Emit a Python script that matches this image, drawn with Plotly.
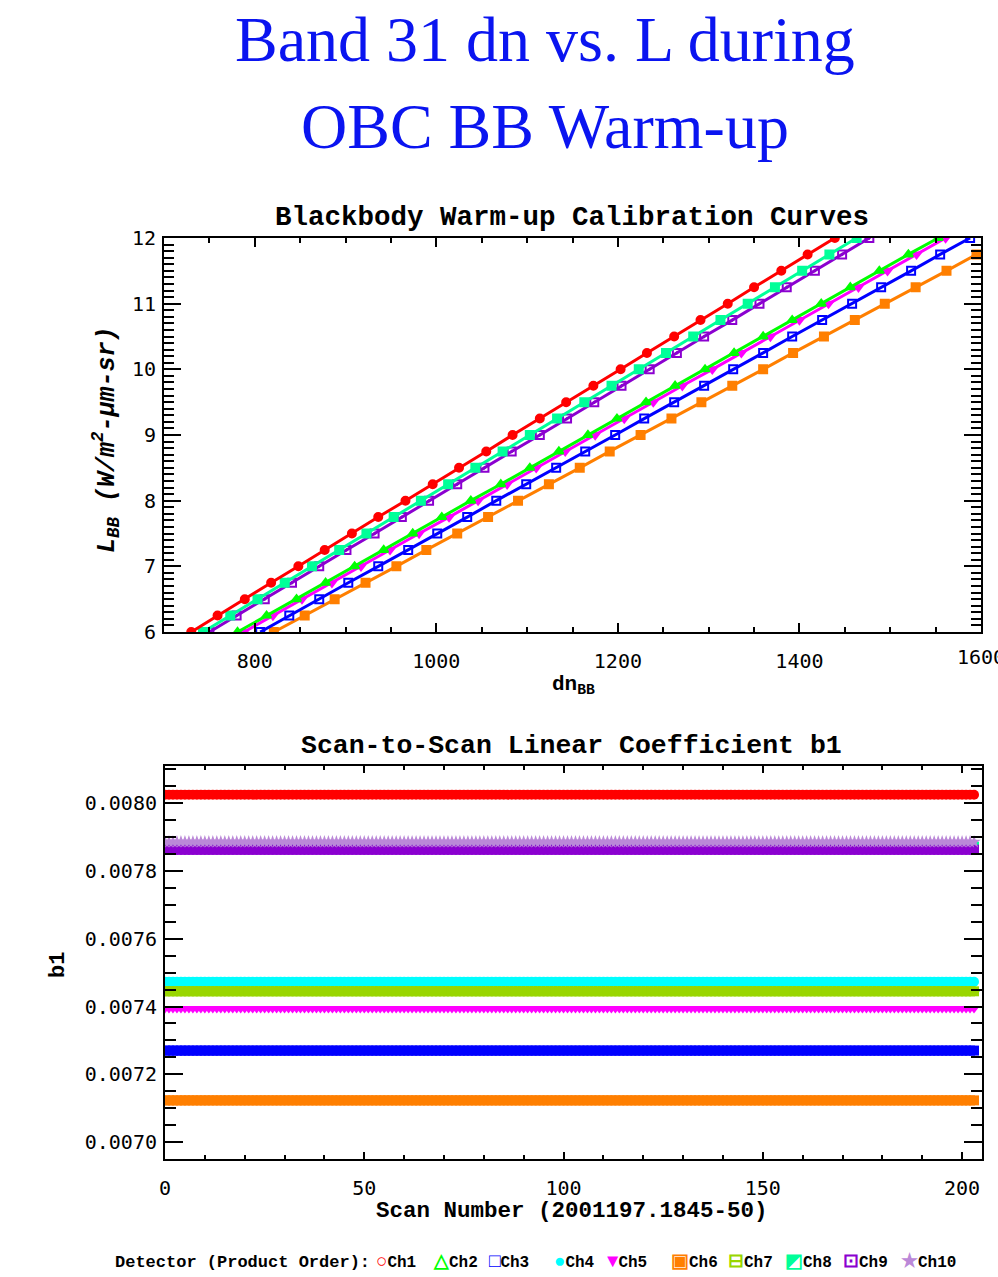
import plotly.graph_objects as go

# ---------------- data ----------------
CHANNELS = ["Ch1", "Ch2", "Ch3", "Ch4", "Ch5", "Ch6", "Ch7", "Ch8", "Ch9", "Ch10"]
COLORS = ["#FF0000", "#00FF00", "#0000FF", "#00FFFF", "#FF00FF",
          "#FF7F00", "#99D600", "#00FF99", "#8B00D0", "#BB88D8"]
SYMBOLS_TOP = ["circle", "triangle-up", "square-open", "circle", "triangle-down",
               "square", "square", "square", "square-open-dot", "star"]
SYMBOLS_BOT = ["circle", "triangle-up", "square", "circle", "triangle-down",
               "square", "square", "square", "square", "star"]
LEGEND_GLYPHS = ["○", "△", "□", "●", "▼", "▣", "⊟", "◩", "⊡", "★"]

# Top panel: radiance levels (L_BB) and dn read for each visible detector
L_LEVELS = [6.00, 6.25, 6.50, 6.75, 7.00, 7.25, 7.50, 7.75, 8.00, 8.25, 8.50, 8.75,
            9.00, 9.25, 9.50, 9.75, 10.00, 10.25, 10.50, 10.75, 11.00, 11.25,
            11.50, 11.75, 12.00]
DN_CH1 = [730, 759, 789, 818, 848, 877, 907, 936, 966, 996, 1025, 1055, 1084,
          1114, 1143, 1173, 1203, 1232, 1262, 1291, 1321, 1350, 1380, 1409, 1439]
DN_CH2 = [781, 813, 846, 878, 910, 942, 974, 1006, 1038, 1071, 1103, 1135, 1167,
          1199, 1231, 1263, 1296, 1328, 1360, 1392, 1424, 1456, 1488, 1520, 1553]
DN_CH3 = [806, 838, 871, 903, 936, 969, 1001, 1034, 1066, 1099, 1132, 1164, 1197,
          1229, 1262, 1295, 1327, 1360, 1392, 1425, 1458, 1490, 1523, 1555, 1588]
DN_CH5 = [788, 820, 852, 885, 917, 949, 981, 1014, 1046, 1078, 1110, 1142, 1175,
          1207, 1239, 1271, 1304, 1336, 1368, 1400, 1432, 1465, 1497, 1529, 1561]
DN_CH6 = [821, 855, 888, 922, 956, 989, 1023, 1057, 1090, 1124, 1158, 1191, 1225,
          1259, 1292, 1326, 1360, 1393, 1427, 1461, 1494, 1528, 1562, 1595, 1629]
DN_CH8 = [743, 773, 803, 833, 863, 893, 923, 953, 983, 1013, 1043, 1073, 1103,
          1133, 1163, 1193, 1223, 1253, 1283, 1313, 1343, 1373, 1403, 1433, 1463]
DN_CH9 = [750, 780, 811, 841, 871, 901, 932, 962, 992, 1023, 1053, 1083, 1114,
          1144, 1174, 1204, 1235, 1265, 1295, 1326, 1356, 1386, 1417, 1447, 1477]
TOP_SERIES = [("Ch9", DN_CH9), ("Ch8", DN_CH8), ("Ch1", DN_CH1), ("Ch6", DN_CH6),
              ("Ch3", DN_CH3), ("Ch5", DN_CH5), ("Ch2", DN_CH2)]
TOP_X_TICKS = [800, 1000, 1200, 1400, 1600]

# Bottom panel: scan numbers and the (flat) b1 level read for each detector
SCANS = list(range(0, 204))
B1_LEVEL = [0.008025, 0.007450, 0.007270, 0.007473, 0.007394,
            0.007123, 0.007445, 0.007872, 0.007863, 0.007886]

# ---------------- layout helpers (page pixels -> paper) ----------------
W, H = 998, 1277


def px(x):
    return x / W


def py(y):
    return 1 - y / H


TICKFONT = dict(family="DejaVu Sans Mono", size=20, color="black")
MONO_B = "Liberation Mono"

fig = go.Figure()

idx = {c: i for i, c in enumerate(CHANNELS)}
for name, dn in TOP_SERIES:
    i = idx[name]
    fig.add_trace(go.Scatter(
        x=dn, y=L_LEVELS, mode="lines+markers", name=name, showlegend=False,
        line=dict(color=COLORS[i], width=3),
        marker=dict(symbol=SYMBOLS_TOP[i], size=8, color=COLORS[i],
                    line=dict(color=COLORS[i], width=2)),
        xaxis="x", yaxis="y"))

for i, name in enumerate(CHANNELS):
    fig.add_trace(go.Scatter(
        x=SCANS, y=[B1_LEVEL[i]] * len(SCANS), mode="markers", name=name,
        showlegend=False,
        marker=dict(symbol=SYMBOLS_BOT[i], size=10, color=COLORS[i],
                    line=dict(width=0)),
        xaxis="x2", yaxis="y2"))

axis_common = dict(showgrid=False, zeroline=False, showline=True, linecolor="black",
                   linewidth=2, mirror="ticks", ticks="inside", tickcolor="black",
                   tickfont=TICKFONT)

fig.update_layout(
    width=W, height=H, margin=dict(l=0, r=0, t=0, b=0, autoexpand=False),
    paper_bgcolor="white", plot_bgcolor="white",
    xaxis=dict(axis_common, domain=[px(164), px(981)], range=[700, 1600],
               tickvals=TOP_X_TICKS[:-1], ticklen=9, tickwidth=2,
               minor=dict(dtick=50, tick0=700, ticklen=5, tickwidth=1.5,
                          ticks="inside", tickcolor="black"),
               ticklabelstandoff=10, anchor="y"),
    yaxis=dict(axis_common, domain=[py(632), py(238)], range=[6, 12], dtick=1,
               ticklen=17, tickwidth=2,
               minor=dict(dtick=0.1, tick0=6, ticklen=10, tickwidth=1.5,
                          ticks="inside", tickcolor="black"),
               ticklabelstandoff=2, anchor="x"),
    xaxis2=dict(axis_common, domain=[px(165), px(982)], range=[0, 205],
                tickvals=[0, 50, 100, 150, 200], ticklen=7, tickwidth=2,
                minor=dict(dtick=10, tick0=0, ticklen=4, tickwidth=1.5,
                           ticks="inside", tickcolor="black"),
                ticklabelstandoff=10, anchor="y2"),
    yaxis2=dict(axis_common, domain=[py(1159), py(766)], range=[0.00695, 0.00811],
                tickvals=[0.0070, 0.0072, 0.0074, 0.0076, 0.0078, 0.0080],
                tickformat=".4f", ticklen=18, tickwidth=2,
                minor=dict(dtick=0.00005, tick0=0.007, ticklen=11, tickwidth=1.5,
                           ticks="inside", tickcolor="black"),
                ticklabelstandoff=2, anchor="x2"),
)

ann = []
TITLE_FONT = dict(family="Liberation Serif", size=64, color="#0A14F0")
ann.append(dict(text="Band 31 dn vs. L during", x=px(545), y=py(39),
                font=TITLE_FONT))
ann.append(dict(text="OBC BB Warm-up", x=px(545), y=py(127), font=TITLE_FONT))
ann.append(dict(text="<b>Blackbody Warm-up Calibration Curves</b>", x=px(572),
                y=py(218), font=dict(family=MONO_B, size=27.5, color="black")))
ann.append(dict(text="<b>Scan-to-Scan Linear Coefficient b1</b>", x=px(571),
                y=py(746), font=dict(family=MONO_B, size=26.5, color="black")))
ann.append(dict(text="<b><i>L<sub>BB</sub> (W/m<sup>2</sup>-μm-sr)</i></b>",
                x=px(106), y=py(440), textangle=-90,
                font=dict(family=MONO_B, size=25, color="black")))
ann.append(dict(text="<b>dn<sub>BB</sub></b>", x=px(573), y=py(685),
                font=dict(family=MONO_B, size=21, color="black")))
ann.append(dict(text="<b>b1</b>", x=px(58), y=py(965), textangle=-90,
                font=dict(family=MONO_B, size=22, color="black")))
ann.append(dict(text="<b>Scan Number (2001197.1845-50)</b>", x=px(572), y=py(1211),
                font=dict(family=MONO_B, size=22.5, color="black")))
# last x tick label of the top panel sits on the page edge (cut off in the original)
ann.append(dict(text=str(TOP_X_TICKS[-1]), x=TOP_X_TICKS[-1], xref="x",
                y=py(657), font=TICKFONT))
ann.append(dict(text="<b>Detector (Product Order):</b>", x=px(372), y=py(1262),
                xanchor="right", font=dict(family=MONO_B, size=17, color="black")))
LEG_X = [382, 439, 495, 560, 613, 677, 734, 791, 849, 907]
for i, name in enumerate(CHANNELS):
    ann.append(dict(
        text=(f"<span style='color:{COLORS[i]};font-size:19px'><b>{LEGEND_GLYPHS[i]}</b></span>"
              f"<b>{name}</b>"),
        x=px(LEG_X[i] - 8), y=py(1262), xanchor="left",
        font=dict(family=MONO_B, size=16, color="black")))

for a in ann:
    a.setdefault("xanchor", "center")
    a.setdefault("xref", "paper")
    a.update(yref="paper", showarrow=False, yanchor="middle")
fig.update_layout(annotations=ann)

fig.write_html(
    "out.html",
    config={"displayModeBar": False},
    post_script=("document.documentElement.style.margin='0';"
                 "document.body.style.margin='0';document.body.style.padding='0';"
                 "document.documentElement.style.overflow='hidden';"),
)
